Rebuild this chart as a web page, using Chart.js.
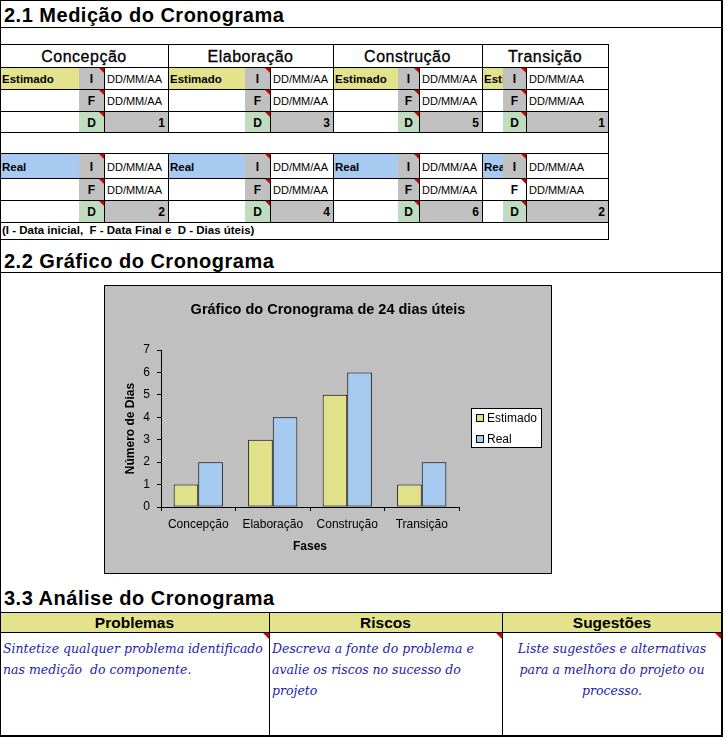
<!DOCTYPE html>
<html>
<head>
<meta charset="utf-8">
<script src="https://cdn.jsdelivr.net/npm/chart.js@4.4.1/dist/chart.umd.min.js"></script>
<style>
  html, body { margin: 0; padding: 0; background: #fff; }
  #page { position: relative; width: 726px; height: 740px; overflow: hidden; font-family: Arial, "Liberation Sans", sans-serif; color: #000; }
  .ln { position: absolute; background: #000; }
  .cell { position: absolute; box-sizing: border-box; display: flex; align-items: center; white-space: nowrap; overflow: hidden; font-size: 11px; }
  .tri::after { content: ""; position: absolute; right: 0; top: 0; border-top: 6px solid #d40000; border-left: 6px solid transparent; }
  .mark { position: absolute; width: 0; height: 0; border-top: 6px solid #d40000; border-left: 6px solid transparent; }
  .sec { position: absolute; left: 4px; font-size: 20px; font-weight: bold; letter-spacing: 0.5px; line-height: 20px; white-space: nowrap; }
  .note { position: absolute; left: 2px; top: 222px; height: 17px; line-height: 17px; font-size: 11.5px; font-weight: bold; white-space: nowrap; }
  .ahead { position: absolute; top: 612px; height: 20px; line-height: 21px; text-align: center; font-size: 15.5px; font-weight: bold; }
  .atext { position: absolute; top: 632px; box-sizing: border-box; padding: 6px 3px 0 3px; font-family: "DejaVu Serif", serif; font-style: italic; font-size: 12.5px; line-height: 21px; color: #1c1cab; white-space: nowrap; }
  #chartBox { position: absolute; left: 104px; top: 285px; width: 446px; height: 287px; border: 1px solid #000; background: #c0c0c0; }
</style>
</head>
<body>
<div id="page">
  <div class="sec" style="top:5px;">2.1 Medição do Cronograma</div>
  <div class="sec" style="top:251px;">2.2 Gráfico do Cronograma</div>
  <div class="sec" style="top:588px;">3.3 Análise do Cronograma</div>
  <div class="note">(I - Data inicial,&nbsp; F - Data Final e&nbsp; D - Dias úteis)</div>

  <div class="ln" style="left:0;top:612px;width:722px;height:20px;background:#e3e38e;"></div>
  <div class="ahead" style="left:0;width:269px;">Problemas</div>
  <div class="ahead" style="left:269px;width:233px;">Riscos</div>
  <div class="ahead" style="left:502px;width:220px;">Sugestões</div>
  <div class="atext" style="left:0;width:269px;">Sintetize qualquer problema identificado<br>nas medição&nbsp; do componente.</div>
  <div class="atext" style="left:269px;width:233px;">Descreva a fonte do problema e<br>avalie os riscos no sucesso do<br>projeto</div>
  <div class="atext" style="left:502px;width:220px;text-align:center;">Liste sugestões e alternativas<br>para a melhora do projeto ou<br>processo.</div>
  <div class="mark" style="left:263px;top:633px;"></div>
  <div class="mark" style="left:496px;top:633px;"></div>
  <div class="mark" style="left:715px;top:633px;"></div>

  <div id="chartBox"><canvas id="cronoChart" width="446" height="287"></canvas></div>
</div>

<script>
'use strict';

// ---- data ----
const phases = ['Concepção', 'Elaboração', 'Construção', 'Transição'];
const estimado = [1, 3, 5, 1];
const real = [2, 4, 6, 2];
const seriesLabels = ['Estimado', 'Real'];
const seriesColors = ['#e1e18a', '#a6caf0'];
const chartTitle = 'Gráfico do Cronograma de 24 dias úteis';
const xTitle = 'Fases';
const yTitle = 'Número de Dias';
const yMax = 7;
const dateText = 'DD/MM/AA';

// ---- spreadsheet grid ----
const page = document.getElementById('page');
const COLS = [[0, 79, 104, 168], [168, 245, 270, 333], [333, 398, 419, 482], [482, 503, 526, 608]];

function line(x, y, w, h) {
  const d = document.createElement('div');
  d.className = 'ln';
  d.style.cssText = `left:${x}px;top:${y}px;width:${w}px;height:${h}px;`;
  page.appendChild(d);
}

function cell(x, y, w, h, text, style, tri) {
  const d = document.createElement('div');
  d.className = 'cell' + (tri ? ' tri' : '');
  d.style.cssText = `left:${x}px;top:${y}px;width:${w}px;height:${h}px;` + (style || '');
  d.textContent = text;
  page.appendChild(d);
}

// phase headers
phases.forEach((p, i) => {
  const c = COLS[i];
  cell(c[0], 44, c[3] - c[0], 23, p, 'justify-content:center;font-size:16px;letter-spacing:0.5px;-webkit-text-stroke:0.3px #000;padding-top:2px;');
});

const groups = [
  { label: seriesLabels[0], bg: '#e3e38e', vals: estimado, rows: [67, 89, 111, 132] },
  { label: seriesLabels[1], bg: '#a6caf0', vals: real, rows: [153, 178, 200, 222] },
];

const keyStyle = 'justify-content:center;font-weight:bold;font-size:12px;padding-top:2px;';

groups.forEach((g, gi) => {
  const r = g.rows;
  phases.forEach((_, i) => {
    const c = COLS[i];
    const lw = c[1] - c[0], kw = c[2] - c[1], vw = c[3] - c[2];
    // I row
    cell(c[0], r[0], lw, r[1] - r[0], g.label, `background:${g.bg};font-weight:bold;font-size:11.5px;padding:2px 0 0 2px;`);
    cell(c[1], r[0], kw, r[1] - r[0], 'I', 'background:#c0c0c0;' + keyStyle, true);
    cell(c[2], r[0], vw, r[1] - r[0], dateText, 'padding:2px 0 0 3px;');
    // F row
    const fBg = (gi === 1 && i === 3) ? '#fff' : '#c0c0c0';
    cell(c[1], r[1], kw, r[2] - r[1], 'F', `background:${fBg};` + keyStyle, true);
    cell(c[2], r[1], vw, r[2] - r[1], dateText, 'padding:2px 0 0 3px;');
    // D row
    cell(c[1], r[2], kw, r[3] - r[2], 'D', 'background:#c0dcc0;' + keyStyle, true);
    cell(c[2], r[2], vw, r[3] - r[2], String(g.vals[i]), 'background:#c0c0c0;justify-content:flex-end;font-weight:bold;font-size:12px;padding:2px 3px 0 0;');
  });
});

// grid lines
[44, 67, 89, 111, 132, 153, 178, 200, 222, 239].forEach(y => line(0, y, 609, 1));
[168, 333, 482].forEach(x => { line(x, 44, 1, 88); line(x, 153, 1, 69); });
COLS.forEach(c => { line(c[2], 67, 1, 65); line(c[2], 153, 1, 69); });
line(608, 44, 1, 195);

// frame + section rules
line(0, 0, 723, 1);
line(0, 0, 1, 737);
line(721, 0, 2, 737);
line(0, 735, 723, 2);
line(0, 27, 722, 1);
line(0, 272, 722, 1);
line(0, 612, 722, 1);
line(0, 632, 722, 1);
line(269, 612, 1, 123);
line(502, 612, 1, 123);

// ---- chart ----
Chart.defaults.font.family = 'Arial, "Liberation Sans", sans-serif';
Chart.defaults.color = '#000';

// title centred on the whole chart box, legend in a framed white box
const excelDecor = {
  id: 'excelDecor',
  afterDraw(chart) {
    const ctx = chart.ctx;
    ctx.save();
    ctx.fillStyle = '#000';
    ctx.font = 'bold 14.5px Arial, "Liberation Sans", sans-serif';
    ctx.textAlign = 'center';
    ctx.textBaseline = 'middle';
    ctx.fillText(chartTitle, chart.width / 2, 24);

    const x = 366, y = 122, w = 71, h = 40;
    ctx.fillStyle = '#fff';
    ctx.fillRect(x, y, w, h);
    ctx.strokeStyle = '#000';
    ctx.lineWidth = 1;
    ctx.strokeRect(x + 0.5, y + 0.5, w - 1, h - 1);
    ctx.font = '12px Arial, "Liberation Sans", sans-serif';
    ctx.textAlign = 'left';
    chart.data.datasets.forEach((ds, i) => {
      const cy = y + 10 + i * 21;
      ctx.fillStyle = ds.backgroundColor;
      ctx.fillRect(x + 5, cy - 4, 8, 8);
      ctx.strokeRect(x + 5.5, cy - 3.5, 7, 7);
      ctx.fillStyle = '#000';
      ctx.fillText(ds.label, x + 16, cy + 0.5);
    });
    ctx.restore();
  }
};

new Chart(document.getElementById('cronoChart'), {
  type: 'bar',
  data: {
    labels: phases,
    datasets: [
      { label: seriesLabels[0], data: estimado, backgroundColor: seriesColors[0] },
      { label: seriesLabels[1], data: real, backgroundColor: seriesColors[1] },
    ],
  },
  options: {
    responsive: false,
    animation: false,
    events: [],
    layout: { padding: { left: 0, right: 92, top: 64, bottom: 0 } },
    datasets: {
      bar: { categoryPercentage: 0.66, barPercentage: 1, borderWidth: 1, borderColor: '#000', borderSkipped: false },
    },
    plugins: {
      legend: { display: false },
      tooltip: { enabled: false },
      title: { display: false },
    },
    scales: {
      x: {
        afterFit: (s) => { s.height = 66; },
        grid: { display: true, offset: true, drawOnChartArea: false, drawTicks: true, tickLength: 4, color: '#000' },
        border: { display: true, color: '#000', width: 1 },
        ticks: { color: '#000', font: { size: 12 }, padding: 6.8, maxRotation: 0 },
        title: { display: true, text: xTitle, color: '#000', font: { size: 12, weight: 'bold' }, padding: { top: 0, bottom: 18.8 } },
      },
      y: {
        min: 0,
        max: yMax,
        afterFit: (s) => { s.width = 56; },
        grid: { display: true, drawOnChartArea: false, drawTicks: true, tickLength: 4, color: '#000' },
        border: { display: true, color: '#000', width: 1 },
        ticks: { stepSize: 1, color: '#000', font: { size: 12 }, padding: 7 },
        title: { display: true, text: yTitle, color: '#000', font: { size: 12, weight: 'bold' }, padding: { top: 18.8, bottom: 0 } },
      },
    },
  },
  plugins: [excelDecor],
});
</script>
</body>
</html>
